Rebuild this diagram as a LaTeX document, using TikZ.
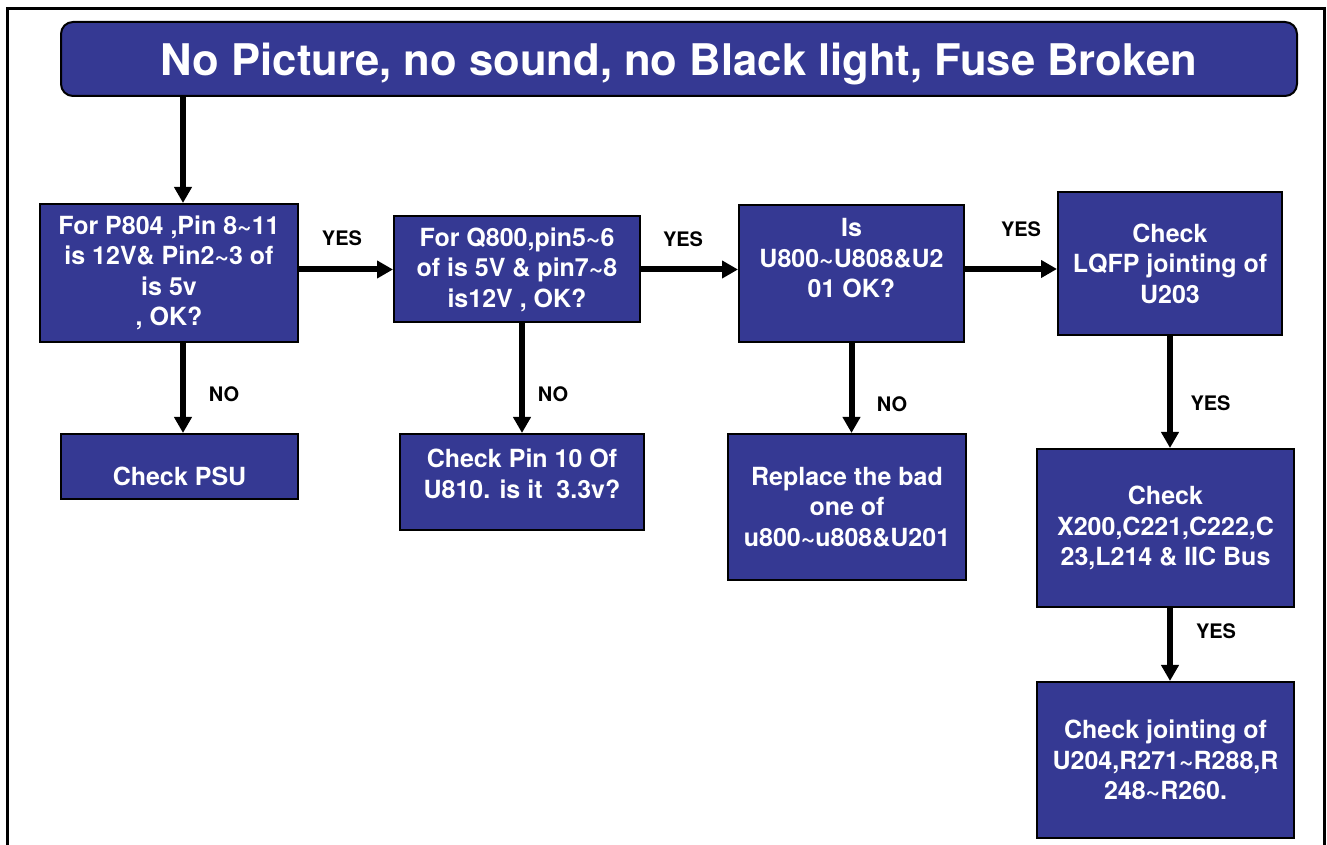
\documentclass[tikz,border=0pt]{standalone}
\usepackage{fontspec}
\setmainfont{TeX Gyre Heros}
\usetikzlibrary{arrows.meta}
\definecolor{blu}{RGB}{53,57,147}
\newcommand{\tld}{\textasciitilde}

\begin{document}
\begin{tikzpicture}[x=1pt,y=1pt,>={Triangle[width=17pt,length=16pt]},
  boxs/.style={draw=black,line width=2pt,fill=blu,text=white,align=center,inner sep=0pt,font=\fontsize{25}{30.5}\selectfont\bfseries},
  ttls/.style={boxs,rounded corners=12pt,font=\fontsize{43.6}{50}\selectfont\bfseries},
  lbls/.style={font=\fontsize{20}{24}\selectfont\bfseries},
  arr/.style={->,line width=6pt}]
  \useasboundingbox (0,0) rectangle (1327,845);
  \draw[line width=3pt] (7,-2) -- (7,836) -- (1324,836) -- (1324,-2);
  % title and first row
  \node[ttls,minimum width=1236pt,minimum height=74pt,text depth=0pt] (ttl) at (679,786) {No Picture, no sound, no Black light, Fuse Broken};
  \node[boxs,minimum width=258pt,minimum height=138pt] (p804) at (169,572) {For P804 ,Pin 8\tld11\\is 12V\& Pin2\tld3 of\\is 5v\\, OK?};
  \node[boxs,minimum width=246pt,minimum height=106pt] (q800) at (517,575.5) {For Q800,pin5\tld6\\of is 5V \& pin7\tld8\\is12V , OK?};
  \node[boxs,minimum width=225pt,minimum height=137pt] (u800) at (851.5,571.5) {Is\\U800\tld U808\&U2\\01 OK?\\\mbox{}};
  \node[boxs,minimum width=224pt,minimum height=143pt] (lqfp) at (1170,581.5) {Check\\LQFP jointing of\\U203};
  % second row
  \node[boxs,minimum width=237pt,minimum height=65pt,text height=38pt,text depth=0pt] (psu) at (179.5,378.5) {Check PSU};
  \node[boxs,minimum width=244pt,minimum height=96pt] (pin10) at (522,363) {Check Pin 10 Of\\U810. is it~ 3.3v?\\[-14pt]\mbox{}};
  \node[boxs,minimum width=238pt,minimum height=146pt] (repl) at (847,338) {Replace the bad\\one of\\u800\tld u808\&U201};
  \node[boxs,minimum width=257pt,minimum height=158pt] (x200) at (1165.5,317) {Check\\X200,C221,C222,C\\23,L214 \& IIC Bus};
  \node[boxs,minimum width=257pt,minimum height=156pt] (u204) at (1165.5,85) {Check jointing of\\U204,R271\tld R288,R\\248\tld R260.};
  % connectors
  \draw[arr] ([xshift=14pt]p804.north |- ttl.south) -- ([xshift=14pt]p804.north);
  \draw[arr] (p804.east |- q800) -- (q800.west);
  \draw[arr] (q800.east) -- (q800.east -| u800.west);
  \draw[arr] ([yshift=4.5pt]u800.east) -- ([yshift=4.5pt]u800.east -| lqfp.west);
  \draw[arr] ([xshift=14pt]p804.south) -- ([xshift=14pt]p804.south |- psu.north);
  \draw[arr] (q800.south -| pin10) -- (pin10.north);
  \draw[arr] (u800.south) -- (u800.south |- repl.north);
  \draw[arr] (lqfp.south) -- (lqfp.south |- x200.north);
  \draw[arr] (x200.south -| lqfp) -- (u204.north -| lqfp);
  % labels
  \node[lbls] (yes1) at (342,607) {YES};
  \node[lbls] (yes2) at (683,605.5) {YES};
  \node[lbls] (yes3) at (1021,616) {YES};
  \node[lbls] (no1) at (224,451) {NO};
  \node[lbls] (no2) at (553,451) {NO};
  \node[lbls] (no3) at (892,441) {NO};
  \node[lbls] (yes4) at (1210.5,442) {YES};
  \node[lbls] (yes5) at (1216,214) {YES};
\end{tikzpicture}
\end{document}
